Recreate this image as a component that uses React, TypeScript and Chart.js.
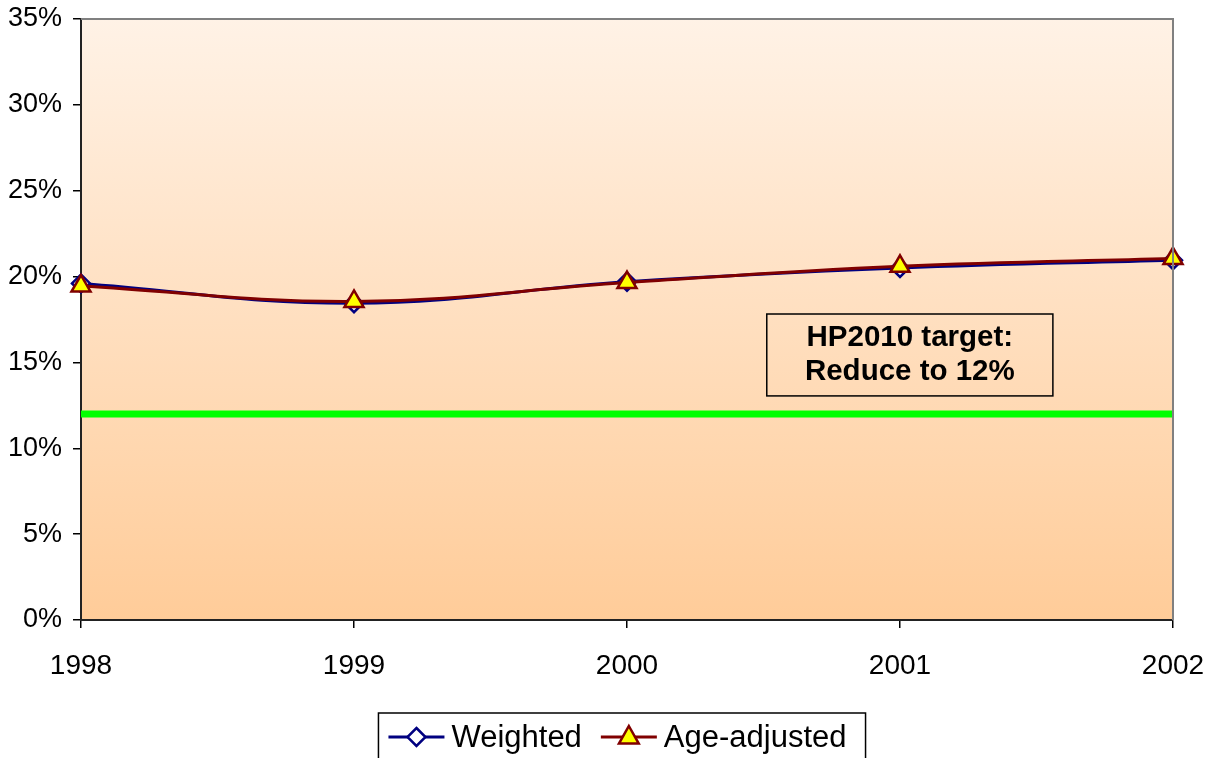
import React, { useEffect, useRef } from 'react';
import { Chart, registerables } from 'chart.js';

Chart.register(...registerables);

const years = ['1998', '1999', '2000', '2001', '2002'];
const weighted = [19.6, 18.45, 19.7, 20.5, 20.95];
const ageAdjusted = [19.45, 18.55, 19.65, 20.6, 21.05];
const target = [12, 12, 12, 12, 12];
const yTickValues = [0, 5, 10, 15, 20, 25, 30, 35];
const targetNote = ['HP2010 target:', 'Reduce to 12%'];
const seriesLabels = ['Weighted', 'Age-adjusted'];

const FONT = 'Liberation Sans, Arial, sans-serif';

const bgPlugin = {
  id: 'bgPlugin',
  beforeDraw(chart: any) {
    const { ctx, chartArea: a } = chart;
    ctx.save();
    const g = ctx.createLinearGradient(0, a.top, 0, a.bottom);
    g.addColorStop(0, '#FFF2E6');
    g.addColorStop(1, '#FFCC99');
    ctx.fillStyle = g;
    ctx.fillRect(a.left, a.top, a.right - a.left, a.bottom - a.top);
    ctx.restore();
  },
  afterDraw(chart: any) {
    const { ctx, chartArea: a } = chart;
    ctx.save();
    // top & right border
    ctx.strokeStyle = '#808080';
    ctx.lineWidth = 2;
    ctx.beginPath();
    ctx.moveTo(a.left, a.top);
    ctx.lineTo(a.right, a.top);
    ctx.lineTo(a.right, a.bottom);
    ctx.stroke();

    // annotation box
    const w = a.right - a.left;
    const bx1 = a.left + w * 0.628;
    const bx2 = a.left + w * 0.89;
    const ys = chart.scales.y;
    const by1 = ys.getPixelForValue(17.82);
    const by2 = ys.getPixelForValue(13.05);
    ctx.strokeStyle = '#000';
    ctx.lineWidth = 1.5;
    ctx.strokeRect(bx1, by1, bx2 - bx1, by2 - by1);
    ctx.fillStyle = '#000';
    ctx.font = `bold 29.5px ${FONT}`;
    ctx.textAlign = 'center';
    ctx.textBaseline = 'middle';
    const cx = (bx1 + bx2) / 2;
    const cy = (by1 + by2) / 2;
    ctx.fillText(targetNote[0], cx, cy - 17);
    ctx.fillText(targetNote[1], cx, cy + 17);

    // legend
    const h = chart.height;
    ctx.font = `31px ${FONT}`;
    const sample = 56;
    const padL = 10, padR = 13, gapText = 7, gapItem = 19;
    const tw = seriesLabels.map((s) => ctx.measureText(s).width);
    const total = padL + sample + gapText + tw[0] + gapItem + sample + gapText + tw[1] + padR + 6;
    const center = (a.left + a.right) / 2 - 5;
    const lx = center - total / 2;
    const ly = h - 45;
    ctx.strokeStyle = '#000';
    ctx.lineWidth = 1.5;
    ctx.strokeRect(lx, ly, total, 60);
    const my = ly + 24;
    let x = lx + padL;
    const drawItem = (i: number, color: string, style: string, fill: string) => {
      ctx.strokeStyle = color;
      ctx.lineWidth = 3;
      ctx.beginPath();
      ctx.moveTo(x, my);
      ctx.lineTo(x + sample, my);
      ctx.stroke();
      const mx = x + sample / 2;
      ctx.fillStyle = fill;
      ctx.lineWidth = 2.5;
      ctx.beginPath();
      if (style === 'diamond') {
        const r = 9;
        ctx.moveTo(mx, my - r);
        ctx.lineTo(mx + r, my);
        ctx.lineTo(mx, my + r);
        ctx.lineTo(mx - r, my);
      } else {
        const r = 11;
        ctx.moveTo(mx, my - r);
        ctx.lineTo(mx + r * 0.9, my + r * 0.6);
        ctx.lineTo(mx - r * 0.9, my + r * 0.6);
      }
      ctx.closePath();
      ctx.fill();
      ctx.stroke();
      x += sample + gapText;
      ctx.fillStyle = '#000';
      ctx.textAlign = 'left';
      ctx.textBaseline = 'middle';
      ctx.font = `31px ${FONT}`;
      ctx.fillText(seriesLabels[i], x, my + 1);
      x += tw[i] + gapItem;
    };
    drawItem(0, '#000080', 'diamond', '#FFFFFF');
    drawItem(1, '#800000', 'triangle', '#FFFF00');
    ctx.restore();
  },
};

export default function App() {
  const ref = useRef<HTMLCanvasElement>(null);
  useEffect(() => {
    document.body.style.margin = '0';
    const chart = new Chart(ref.current!, {
      type: 'line',
      data: {
        labels: years,
        datasets: [
          {
            label: seriesLabels[0],
            data: weighted,
            borderColor: '#000080',
            borderWidth: 3,
            tension: 0.4,
            pointStyle: 'rectRot',
            pointRadius: 9,
            pointBorderWidth: 2.5,
            pointBorderColor: '#000080',
            pointBackgroundColor: '#FFFFFF',
            order: 1,
          },
          {
            label: seriesLabels[1],
            data: ageAdjusted,
            borderColor: '#800000',
            borderWidth: 3,
            tension: 0.4,
            pointStyle: 'triangle',
            pointRadius: 11,
            pointBorderWidth: 2.5,
            pointBorderColor: '#800000',
            pointBackgroundColor: '#FFFF00',
            order: 0,
          },
          {
            label: 'target',
            data: target,
            borderColor: '#00FF00',
            borderWidth: 7,
            pointRadius: 0,
            tension: 0,
            order: 2,
          },
        ],
      },
      options: {
        animation: false,
        responsive: false,
        layout: { padding: { top: 19, right: 41, left: 0, bottom: 0 } },
        plugins: { legend: { display: false }, tooltip: { enabled: false } },
        scales: {
          x: {
            type: 'category',
            offset: false,
            grid: { drawOnChartArea: false, tickLength: 8, color: '#000', lineWidth: 1.5 },
            border: { color: '#222', width: 2 },
            ticks: { color: '#000', font: { family: FONT, size: 28 }, padding: 21, maxRotation: 0 },
            afterFit: (s: any) => { s.height = 138; s.paddingLeft = 0; s.paddingRight = 0; },
          },
          y: {
            min: 0,
            max: 35,
            afterBuildTicks: (s: any) => { s.ticks = yTickValues.map((v) => ({ value: v })); },
            grid: { drawOnChartArea: false, tickLength: 8, color: '#000', lineWidth: 1.5 },
            border: { color: '#222', width: 2 },
            ticks: {
              color: '#000',
              font: { family: FONT, size: 27 },
              padding: 11,
              callback: (v: any) => `${v}%`,
            },
            afterFit: (s: any) => { s.width = 81; s.paddingTop = 0; s.paddingBottom = 0; },
          },
        },
      },
      plugins: [bgPlugin],
    });
    return () => chart.destroy();
  }, []);
  return <canvas ref={ref} width={1214} height={758} style={{ display: 'block' }} />;
}
